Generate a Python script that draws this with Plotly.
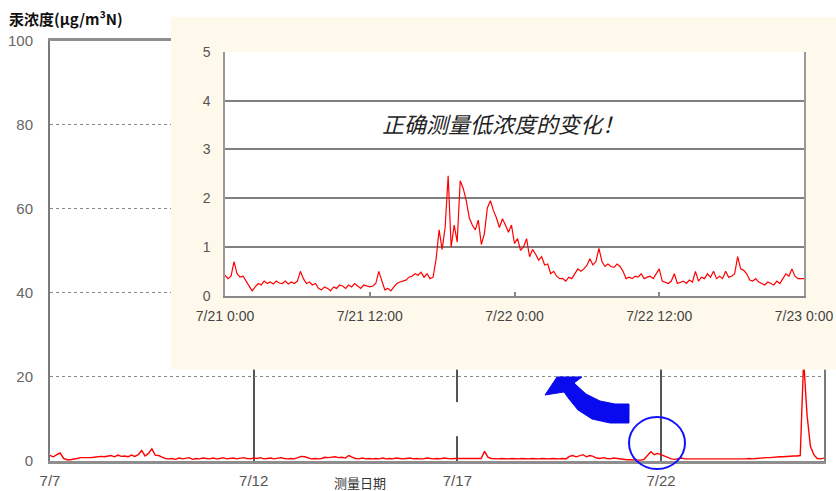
import pandas as pd
import plotly.graph_objects as go

# ---------------- data ----------------
main_start = "2008-07-07 00:00"
main_step_hours = 2
main_values = [
    # 7/7
    1.3, 1.0, 1.5, 1.9, 0.6, 0.3, 0.3, 0.4, 0.6, 0.8, 0.8, 0.7,
    # 7/8
    0.8, 0.9, 1.0, 1.1, 1.0, 1.2, 1.3, 1.0, 1.4, 1.1, 1.2, 1.0,
    # 7/9
    1.4, 1.1, 1.5, 2.5, 1.2, 1.8, 2.9, 1.4, 1.3, 0.9, 0.6, 0.5,
    # 7/10
    0.6, 0.4, 0.7, 0.5, 0.6, 0.8, 0.4, 0.6, 0.5, 0.7, 0.6, 0.5,
    # 7/11
    0.7, 0.5, 0.6, 0.8, 0.5, 0.6, 0.7, 0.5, 0.6, 0.8, 0.6, 0.5,
    # 7/12
    0.7, 0.6, 0.8, 0.5, 0.6, 0.7, 0.5, 0.6, 0.8, 0.6, 0.5, 0.6,
    # 7/13
    0.5, 0.8, 1.1, 1.0, 0.7, 0.5, 0.6, 0.5, 0.6, 0.9, 0.8, 0.9,
    # 7/14
    1.0, 0.8, 0.9, 0.7, 1.3, 0.9, 0.6, 0.5, 0.7, 0.5, 0.6, 0.5,
    # 7/15
    0.6, 0.5, 0.7, 0.5, 0.6, 0.5, 0.7, 0.6, 0.5, 0.6, 0.7, 0.5,
    # 7/16
    0.6, 0.5, 0.5, 0.7, 0.6, 0.5, 0.6, 0.5, 0.7, 0.6, 0.5, 0.6,
    # 7/17
    0.6, 0.5, 0.5, 0.6, 0.5, 0.5, 0.5, 0.6, 2.3, 0.9, 0.6, 0.5,
    # 7/18
    0.5, 0.6, 0.5, 0.5, 0.6, 0.5, 0.5, 0.6, 0.5, 0.5, 0.6, 0.5,
    # 7/19
    0.5, 0.6, 0.5, 0.5, 0.6, 0.5, 0.5, 0.6, 0.5, 1.1, 1.3, 1.0,
    # 7/20
    1.2, 1.5, 1.0, 1.3, 1.1, 0.7, 0.6, 0.8, 0.6, 0.5, 0.7, 0.6,
    # 7/21
    0.4, 0.3, 0.3, 0.3, 0.2, 0.2, 0.2, 0.4, 1.3, 2.2, 1.5, 1.8,
    # 7/22
    1.5, 1.1, 0.8, 0.5, 0.4, 0.6, 0.7, 0.5, 0.5, 0.4, 0.4, 0.4,
    # 7/23
    0.5, 0.4, 0.5, 0.4, 0.5, 0.5, 0.4, 0.5, 0.4, 0.5, 0.5, 0.4,
    # 7/24
    0.5, 0.5, 0.6, 0.5, 0.6, 0.7, 0.7, 0.8, 0.8, 0.9, 0.9, 1.0,
    # 7/25
    1.0, 1.1, 1.1, 1.2, 1.2, 1.3, 24.0, 11.0, 3.5, 1.5, 0.6, 0.5,
    # 7/26 0:00
    0.7,
]

inset_start = "2008-07-21 00:00"
inset_step_minutes = 15
inset_values = [
    0.42, 0.35, 0.40, 0.70,  0.45, 0.38, 0.40, 0.30,  0.20, 0.10, 0.18, 0.25,
    0.22, 0.30, 0.25, 0.28,  0.24, 0.30, 0.26, 0.25,  0.30, 0.24, 0.28, 0.25,
    0.30, 0.50, 0.35, 0.25,  0.28, 0.22, 0.25, 0.15,  0.12, 0.18, 0.15, 0.10,
    0.18, 0.15, 0.22, 0.20,  0.15, 0.22, 0.18, 0.25,  0.20, 0.15, 0.22, 0.20,
    0.18, 0.20, 0.25, 0.50,  0.30, 0.12, 0.15, 0.10,  0.18, 0.25, 0.28, 0.30,
    0.32, 0.38, 0.40, 0.45,  0.42, 0.48, 0.38, 0.45,  0.35, 0.38, 0.75, 1.35,
    0.95, 1.40, 2.46, 1.00,  1.45, 1.10, 2.36, 2.20,  1.95, 1.60, 1.45, 1.35,
    1.55, 1.05, 1.27, 1.80,  1.95, 1.75, 1.60, 1.40,  1.58, 1.45, 1.30, 1.45,
    1.07, 1.17, 0.93, 1.00,  1.17, 0.80, 0.95, 0.85,  0.73, 0.80, 0.63, 0.65,
    0.45, 0.50, 0.40, 0.35,  0.35, 0.30, 0.38, 0.35,  0.45, 0.55, 0.50, 0.55,
    0.62, 0.76, 0.63, 0.70,  0.97, 0.70, 0.60, 0.65,  0.60, 0.58, 0.65, 0.60,
    0.50, 0.35, 0.38, 0.35,  0.40, 0.38, 0.45, 0.35,  0.38, 0.40, 0.35, 0.45,
    0.55, 0.30, 0.28, 0.25,  0.30, 0.45, 0.25, 0.28,  0.30, 0.25, 0.32, 0.28,
    0.50, 0.30, 0.38, 0.35,  0.45, 0.38, 0.50, 0.35,  0.40, 0.35, 0.50, 0.38,
    0.40, 0.45, 0.80, 0.55,  0.52, 0.45, 0.32, 0.30,  0.35, 0.28, 0.25, 0.22,
    0.28, 0.25, 0.22, 0.30,  0.25, 0.35, 0.45, 0.40,  0.55, 0.40, 0.35, 0.35,
    0.35,
]

main_xrange = ["2008-07-07", "2008-07-26"]
main_yticks = [0, 20, 40, 60, 80, 100]
inset_xrange = ["2008-07-21 00:00", "2008-07-23 00:00"]
inset_yticks = [0, 1, 2, 3, 4, 5]

title_text = "汞浓度(μg/m³N)"
xtitle_text = "测量日期"
note_text = "正确测量低浓度的变化！"

main_x = pd.date_range(main_start, periods=len(main_values), freq=f"{main_step_hours}h")
inset_x = pd.date_range(inset_start, periods=len(inset_values), freq=f"{inset_step_minutes}min")

# ---------------- layout geometry (pixels -> paper) ----------------
W, H = 836, 491
ML, MR, MT, MB = 50, 0, 17, 30
PW, PH = W - ML - MR, H - MT - MB


def px(x):
    return (x - ML) / PW


def py(y):
    return (H - MB - y) / PH


CREAM = "#fff9ec"
NUM_FONT = "Liberation Sans, Arial, sans-serif"
CJK_FONT = "Noto Sans CJK SC, Noto Sans CJK JP, sans-serif"

fig = go.Figure()

fig.add_trace(go.Scatter(
    x=main_x, y=main_values, mode="lines",
    line=dict(color="#ff0000", width=1.4),
    xaxis="x", yaxis="y", showlegend=False, hoverinfo="skip",
))
# placeholder trace so the cream panel subplot exists (drawn between main and inset)
fig.add_trace(go.Scatter(
    x=[0.5], y=[0.5], mode="markers", marker=dict(opacity=0),
    xaxis="x2", yaxis="y2", showlegend=False, hoverinfo="skip",
))
fig.add_trace(go.Scatter(
    x=inset_x, y=inset_values, mode="lines",
    line=dict(color="#ff0000", width=1.2),
    xaxis="x3", yaxis="y3", showlegend=False, hoverinfo="skip",
))

fig.update_layout(
    width=W, height=H,
    margin=dict(l=ML, r=MR, t=MT, b=MB, autoexpand=False),
    paper_bgcolor="white",
    plot_bgcolor="white",
    font=dict(family=NUM_FONT, color="#555"),
    xaxis=dict(
        domain=[0, px(824)], anchor="y", automargin=False,
        type="date", range=main_xrange,
        tick0="2008-07-07", dtick=5 * 86400000, tickformat="%-m/%-d",
        showgrid=True, gridcolor="#555", gridwidth=1.5,
        showline=True, linecolor="#8e8e8e", linewidth=2.5, mirror=True,
        ticks="", ticklabelstandoff=4,
        tickfont=dict(size=15, color="#555"),
        zeroline=False,
    ),
    yaxis=dict(
        domain=[0, py(40.5)], anchor="x", automargin=False,
        range=[0, 100], tickvals=main_yticks,
        showgrid=True, gridcolor="#888", gridwidth=1, griddash="dot",
        showline=True, linecolor="#7a7a7a", linewidth=2, mirror=True,
        ticks="", ticklabelstandoff=12,
        tickfont=dict(size=15, color="#666"),
        zeroline=False,
    ),
    xaxis2=dict(domain=[px(171), 1.0], anchor="y2", range=[0, 1], visible=False,
                fixedrange=True, automargin=False),
    yaxis2=dict(domain=[py(369.5), 1.0], anchor="x2", range=[0, 1], visible=False,
                fixedrange=True, automargin=False),
    xaxis3=dict(
        domain=[px(225), px(804)], anchor="y3", automargin=False,
        type="date", range=inset_xrange,
        tick0=inset_xrange[0], dtick=12 * 3600000, tickformat="%-m/%-d %-H:%M",
        showgrid=False,
        showline=True, linecolor="#888", linewidth=2,
        ticks="inside", ticklen=4, tickcolor="#888", tickwidth=1.5,
        ticklabelstandoff=6,
        tickfont=dict(size=14, color="#444"),
        zeroline=False,
    ),
    yaxis3=dict(
        domain=[py(295.7), py(52)], anchor="x3", automargin=False,
        range=[0, 5], tickvals=inset_yticks,
        showgrid=True, gridcolor="#808080", gridwidth=2,
        showline=True, linecolor="#999", linewidth=1.5, mirror=True,
        ticks="", ticklabelstandoff=10,
        tickfont=dict(size=14, color="#555"),
        zeroline=False,
    ),
)

shapes = [
    # cream panel behind the inset chart
    dict(type="rect", xref="x2", yref="y2", x0=0, x1=1, y0=0, y1=1,
         fillcolor=CREAM, line=dict(width=0), layer="below"),
    # small gap in the 7/17 vertical line
    dict(type="rect", xref="x", yref="y",
         x0="2008-07-16 21:00", x1="2008-07-17 03:00", y0=5.9, y1=14.0,
         fillcolor="white", line=dict(width=0), layer="above"),
    # blue circle
    dict(type="circle", xref="paper", yref="paper",
         x0=px(629), x1=px(685), y0=py(469), y1=py(417),
         line=dict(color="#1010ff", width=2), layer="above"),
]

arrow_pts = [(545, 395), (557, 377), (582, 377), (574, 383), (586, 394), (600, 401),
             (615, 404), (629, 404), (629, 423), (610, 423), (592, 419), (578, 410),
             (569, 399), (564, 392)]
path = "M " + " L ".join(f"{px(a):.5f},{py(b):.5f}" for a, b in arrow_pts) + " Z"
shapes.append(dict(type="path", xref="paper", yref="paper", path=path,
                   fillcolor="#0a0aee", line=dict(color="#0a0aee", width=1), layer="above"))
fig.update_layout(shapes=shapes)

fig.add_annotation(text=f"<b>{title_text}</b>", xref="paper", yref="paper",
                   x=px(7), y=py(18.5), xanchor="left", yanchor="middle", showarrow=False,
                   font=dict(family=CJK_FONT, size=15, color="#111"))
fig.add_annotation(text=xtitle_text, xref="paper", yref="paper",
                   x=px(360), y=py(482), xanchor="center", yanchor="middle", showarrow=False,
                   font=dict(family=CJK_FONT, size=13, color="#333"))
fig.add_annotation(text=f"<i>{note_text}</i>", xref="paper", yref="paper",
                   x=px(503), y=py(123), xanchor="center", yanchor="middle", showarrow=False,
                   font=dict(family=CJK_FONT, size=22, color="#222"))

fig.write_html("out.html")
